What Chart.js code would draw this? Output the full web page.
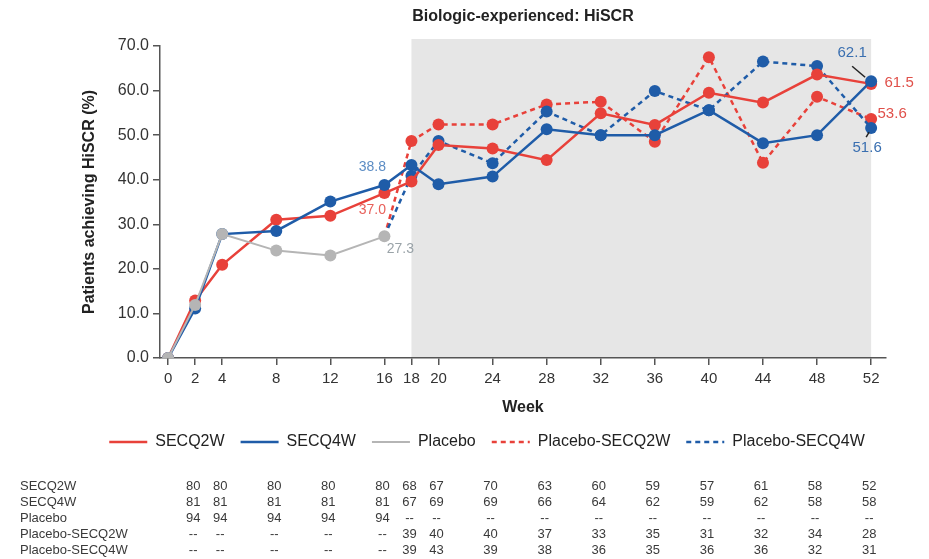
<!DOCTYPE html>
<html lang="en">
<head>
<meta charset="UTF-8">
<title>Biologic-experienced: HiSCR</title>
<script src="https://cdn.jsdelivr.net/npm/chart.js"></script>
<style>
  body { margin: 0; background: #fff; }
  #wrap { position: relative; width: 929px; height: 559px; }
</style>
</head>
<body>
<div id="wrap"><canvas id="myChart"></canvas></div>
<script>
// weeks on the x axis
const weeks = [0, 2, 4, 8, 12, 16, 18, 20, 24, 28, 32, 36, 40, 44, 48, 52];

// % of patients achieving HiSCR
const secq2w = [0, 12.9, 20.9, 31.0, 31.9, 37.0, 39.6, 47.8, 47.0, 44.4, 54.9, 52.3, 59.5, 57.3, 63.6, 61.5];
const secq4w = [0, 11.1, 27.8, 28.5, 35.1, 38.8, 43.3, 39.0, 40.7, 51.3, 50.0, 50.0, 55.6, 48.2, 50.0, 62.1];
const placebo = [0, 11.9, 27.8, 24.1, 23.0, 27.3, null, null, null, null, null, null, null, null, null, null];
const placeboSecq2w = [null, null, null, null, null, 27.3, 48.7, 52.4, 52.4, 56.9, 57.5, 48.5, 67.5, 43.8, 58.6, 53.6];
const placeboSecq4w = [null, null, null, null, null, 27.3, 40.9, 48.7, 43.7, 55.3, 50.0, 59.9, 55.6, 66.5, 65.5, 51.6];

// number of patients table (weeks 2..52)
const tableWeeks = [2, 4, 8, 12, 16, 18, 20, 24, 28, 32, 36, 40, 44, 48, 52];
const tableRows = ['SECQ2W', 'SECQ4W', 'Placebo', 'Placebo-SECQ2W', 'Placebo-SECQ4W'];
const nSecq2w = ['80', '80', '80', '80', '80', '68', '67', '70', '63', '60', '59', '57', '61', '58', '52'];
const nSecq4w = ['81', '81', '81', '81', '81', '67', '69', '69', '66', '64', '62', '59', '62', '58', '58'];
const nPlacebo = ['94', '94', '94', '94', '94', '--', '--', '--', '--', '--', '--', '--', '--', '--', '--'];
const nPlaceboSecq2w = ['--', '--', '--', '--', '--', '39', '40', '40', '37', '33', '35', '31', '32', '34', '28'];
const nPlaceboSecq4w = ['--', '--', '--', '--', '--', '39', '43', '39', '38', '36', '35', '36', '36', '32', '31'];

const FONT = "'Liberation Sans', Arial, sans-serif";
const RED = '#e8413a';
const BLUE = '#1f5ca8';
const GRAY = '#b5b5b5';

function toPoints(values) {
  return weeks.map((w, i) => ({ x: w, y: values[i] }));
}
function firstIdx(values) {
  return values.findIndex(v => v !== null);
}

// value labels: dataset index, week, colour, offset from the point
const notes = [
  { ds: 1, week: 16, color: '#5b8cc4', dx: -12, dy: -18, size: 14 },
  { ds: 0, week: 16, color: '#e8605a', dx: -12, dy: 17, size: 14 },
  { ds: 2, week: 16, color: '#9aa3a8', dx: 16, dy: 13, size: 14 },
  { ds: 1, week: 52, color: '#3a6fb0', dx: -19, dy: -28, size: 15, lead: [-19, -15, -6, -4] },
  { ds: 0, week: 52, color: '#e0504a', dx: 28, dy: -1, size: 15 },
  { ds: 3, week: 52, color: '#e0504a', dx: 21, dy: -5, size: 15 },
  { ds: 4, week: 52, color: '#3a6fb0', dx: -4, dy: 20, size: 15, lead: [-2, 4, -5, 9] }
];

const shadePlugin = {
  id: 'shade',
  beforeDraw(chart) {
    const { ctx, chartArea, scales } = chart;
    const x0 = scales.x.getPixelForValue(18);
    const x1 = scales.x.getPixelForValue(52);
    ctx.save();
    ctx.fillStyle = '#e6e6e6';
    ctx.fillRect(x0, chartArea.top - 7, x1 - x0, chartArea.bottom - chartArea.top + 6);
    ctx.restore();
  }
};

const extrasPlugin = {
  id: 'extras',
  afterDatasetsDraw(chart) {
    const { ctx, scales } = chart;
    ctx.save();
    ctx.textAlign = 'center';
    ctx.textBaseline = 'middle';
    notes.forEach(n => {
      const i = weeks.indexOf(n.week);
      const v = chart.data.datasets[n.ds].data[i].y;
      const px = scales.x.getPixelForValue(n.week);
      const py = scales.y.getPixelForValue(v);
      if (n.lead) {
        ctx.strokeStyle = '#222';
        ctx.lineWidth = 1.5;
        ctx.beginPath();
        ctx.moveTo(px + n.lead[0], py + n.lead[1]);
        ctx.lineTo(px + n.lead[2], py + n.lead[3]);
        ctx.stroke();
      }
      ctx.fillStyle = n.color;
      ctx.font = n.size + 'px ' + FONT;
      ctx.fillText(v.toFixed(1), px + n.dx, py + n.dy);
    });
    ctx.restore();
  },
  afterDraw(chart) {
    const { ctx, chartArea, scales } = chart;
    ctx.save();
    // title
    ctx.fillStyle = '#222';
    ctx.font = 'bold 16px ' + FONT;
    ctx.textAlign = 'center';
    ctx.textBaseline = 'middle';
    ctx.fillText('Biologic-experienced: HiSCR', (chartArea.left + chartArea.right) / 2, 17);

    // patients table
    const rows = [nSecq2w, nSecq4w, nPlacebo, nPlaceboSecq2w, nPlaceboSecq4w];
    ctx.font = '13px ' + FONT;
    ctx.fillStyle = '#3a3a3a';
    rows.forEach((row, r) => {
      const y = 486 + r * 16;
      ctx.textAlign = 'left';
      ctx.fillText(tableRows[r], 20, y);
      ctx.textAlign = 'center';
      row.forEach((txt, j) => {
        ctx.fillText(txt, scales.x.getPixelForValue(tableWeeks[j]) - 2, y);
      });
    });
    ctx.restore();
  }
};

const ctx = document.getElementById('myChart').getContext('2d');
const myChart = new Chart(ctx, {
  type: 'line',
  data: {
    datasets: [
      {
        label: 'SECQ2W', data: toPoints(secq2w), order: 2,
        borderColor: RED, backgroundColor: RED, borderWidth: 2.5,
        pointRadius: 6, pointBorderWidth: 0
      },
      {
        label: 'SECQ4W', data: toPoints(secq4w), order: 1,
        borderColor: BLUE, backgroundColor: BLUE, borderWidth: 2.5,
        pointRadius: 6, pointBorderWidth: 0
      },
      {
        label: 'Placebo', data: toPoints(placebo), order: 0,
        borderColor: GRAY, backgroundColor: GRAY, borderWidth: 2,
        pointRadius: 6, pointBorderWidth: 0
      },
      {
        label: 'Placebo-SECQ2W', data: toPoints(placeboSecq2w), order: 4,
        borderColor: RED, backgroundColor: RED, borderWidth: 2.5, borderDash: [5, 4],
        pointRadius: c => c.dataIndex === firstIdx(placeboSecq2w) ? 0 : 6, pointBorderWidth: 0
      },
      {
        label: 'Placebo-SECQ4W', data: toPoints(placeboSecq4w), order: 3,
        borderColor: BLUE, backgroundColor: BLUE, borderWidth: 2.5, borderDash: [5, 4],
        pointRadius: c => c.dataIndex === firstIdx(placeboSecq4w) ? 0 : 6, pointBorderWidth: 0
      }
    ]
  },
  options: {
    responsive: true,
    maintainAspectRatio: false,
    animation: false,
    events: [],
    layout: { padding: { left: 88, right: 43, top: 46, bottom: 99 } },
    scales: {
      x: {
        type: 'linear',
        min: -0.6,
        max: 53.1,
        afterBuildTicks: s => { s.ticks = weeks.map(v => ({ value: v })); },
        afterFit: s => { s.height = 60; s.paddingLeft = 0; s.paddingRight = 0; },
        ticks: {
          autoSkip: false, maxRotation: 0, padding: 5,
          color: '#333', font: { family: FONT, size: 15 }
        },
        grid: { drawOnChartArea: false, drawTicks: true, tickLength: 7, color: '#555', lineWidth: 1.5 },
        border: { display: true, color: '#555', width: 1.5 },
        title: {
          display: true, text: 'Week', color: '#222',
          font: { family: FONT, size: 16, weight: 'bold' },
          padding: { top: 4, bottom: 1 }
        }
      },
      y: {
        min: 0,
        max: 70,
        afterFit: s => { s.width = 72; },
        ticks: {
          stepSize: 10, padding: 4, color: '#333',
          font: { family: FONT, size: 16 },
          callback: v => v.toFixed(1)
        },
        grid: { drawOnChartArea: false, drawTicks: true, tickLength: 7, color: '#555', lineWidth: 1.5 },
        border: { display: true, color: '#555', width: 1.5 },
        title: {
          display: true, text: 'Patients achieving HiSCR (%)', color: '#222',
          font: { family: FONT, size: 16, weight: 'bold' },
          padding: { top: -7.6, bottom: 0 }
        }
      }
    },
    plugins: {
      legend: {
        position: 'bottom',
        labels: {
          usePointStyle: true, pointStyle: 'line', pointStyleWidth: 38,
          padding: 16, color: '#222',
          font: { family: FONT, size: 16 },
          generateLabels: chart => Chart.defaults.plugins.legend.labels.generateLabels(chart).map(item => {
            const ds = chart.data.datasets[item.datasetIndex];
            return Object.assign(item, {
              pointStyle: 'line',
              strokeStyle: ds.borderColor,
              lineWidth: ds.borderWidth,
              lineDash: ds.borderDash || []
            });
          }),
          sort: (a, b) => a.datasetIndex - b.datasetIndex
        }
      },
      tooltip: { enabled: false }
    }
  },
  plugins: [shadePlugin, extrasPlugin]
});
</script>
</body>
</html>
